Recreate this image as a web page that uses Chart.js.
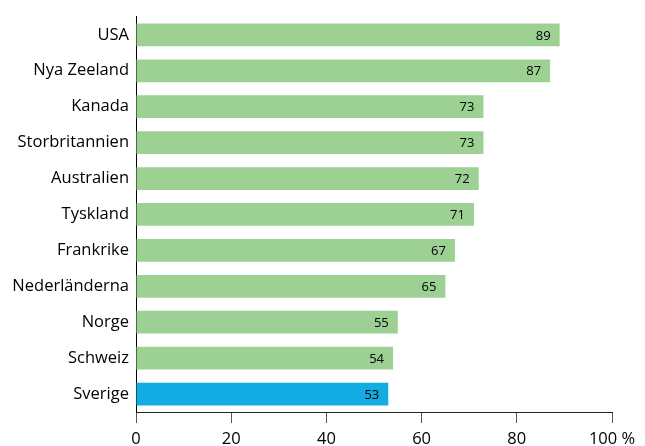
<!DOCTYPE html>
<html>
<head>
<meta charset="utf-8">
<script src="https://cdn.jsdelivr.net/npm/chart.js@4.4.0/dist/chart.umd.min.js"></script>
<style>
  html, body { margin: 0; padding: 0; background: #fff; }
  #wrap { width: 645px; height: 446px; }
</style>
</head>
<body>
<div id="wrap"><canvas id="myChart" width="645" height="446"></canvas></div>
<script>
var countries = ['USA', 'Nya Zeeland', 'Kanada', 'Storbritannien', 'Australien', 'Tyskland', 'Frankrike', 'Nederländerna', 'Norge', 'Schweiz', 'Sverige'];
var shares = [89, 87, 73, 73, 72, 71, 67, 65, 55, 54, 53];
var xTicks = [0, 20, 40, 60, 80, 100];

var green = '#9dd194';
var blue = '#12ace2';
var font = "'Open Sans', sans-serif";

// value labels inside the end of each bar
var barLabels = {
  id: 'barLabels',
  afterDatasetsDraw: function (chart) {
    var ctx = chart.ctx;
    var meta = chart.getDatasetMeta(0);
    ctx.save();
    ctx.font = '13px ' + font;
    ctx.fillStyle = '#000';
    ctx.textAlign = 'right';
    ctx.textBaseline = 'middle';
    meta.data.forEach(function (bar, i) {
      ctx.fillText(String(shares[i]), bar.x - 9, bar.y + 1);
    });
    ctx.restore();
  }
};

var context = document.getElementById('myChart').getContext('2d');
var myChart = new Chart(context, {
  type: 'bar',
  data: {
    labels: countries,
    datasets: [{
      data: shares,
      backgroundColor: countries.map(function (c) { return c === 'Sverige' ? blue : green; }),
      borderWidth: 0,
      barPercentage: 0.634,
      categoryPercentage: 1
    }]
  },
  options: {
    indexAxis: 'y',
    responsive: false,
    animation: false,
    layout: { padding: { top: 13, right: 33, left: 0, bottom: 0 } },
    plugins: { legend: { display: false }, tooltip: { enabled: false } },
    scales: {
      x: {
        min: 0,
        max: 100,
        afterBuildTicks: function (scale) {
          scale.ticks = xTicks.map(function (v) { return { value: v }; });
        },
        afterFit: function (scale) { scale.height = 34; },
        grid: { drawOnChartArea: false, drawTicks: true, tickLength: 11, color: '#555', lineWidth: 1 },
        border: { display: true, color: '#222', width: 1 },
        ticks: {
          color: '#000',
          padding: 6,
          maxRotation: 0,
          font: { family: font, size: 16.5 },
          callback: function (v) { return v === 100 ? '100 %' : v; }
        }
      },
      y: {
        afterFit: function (scale) { scale.width = 136; },
        grid: { display: false, drawTicks: false },
        border: { display: true, color: '#000', width: 1 },
        ticks: {
          color: '#000',
          padding: 7,
          font: { family: font, size: 16.5 }
        }
      }
    }
  },
  plugins: [barLabels]
});
</script>
</body>
</html>
